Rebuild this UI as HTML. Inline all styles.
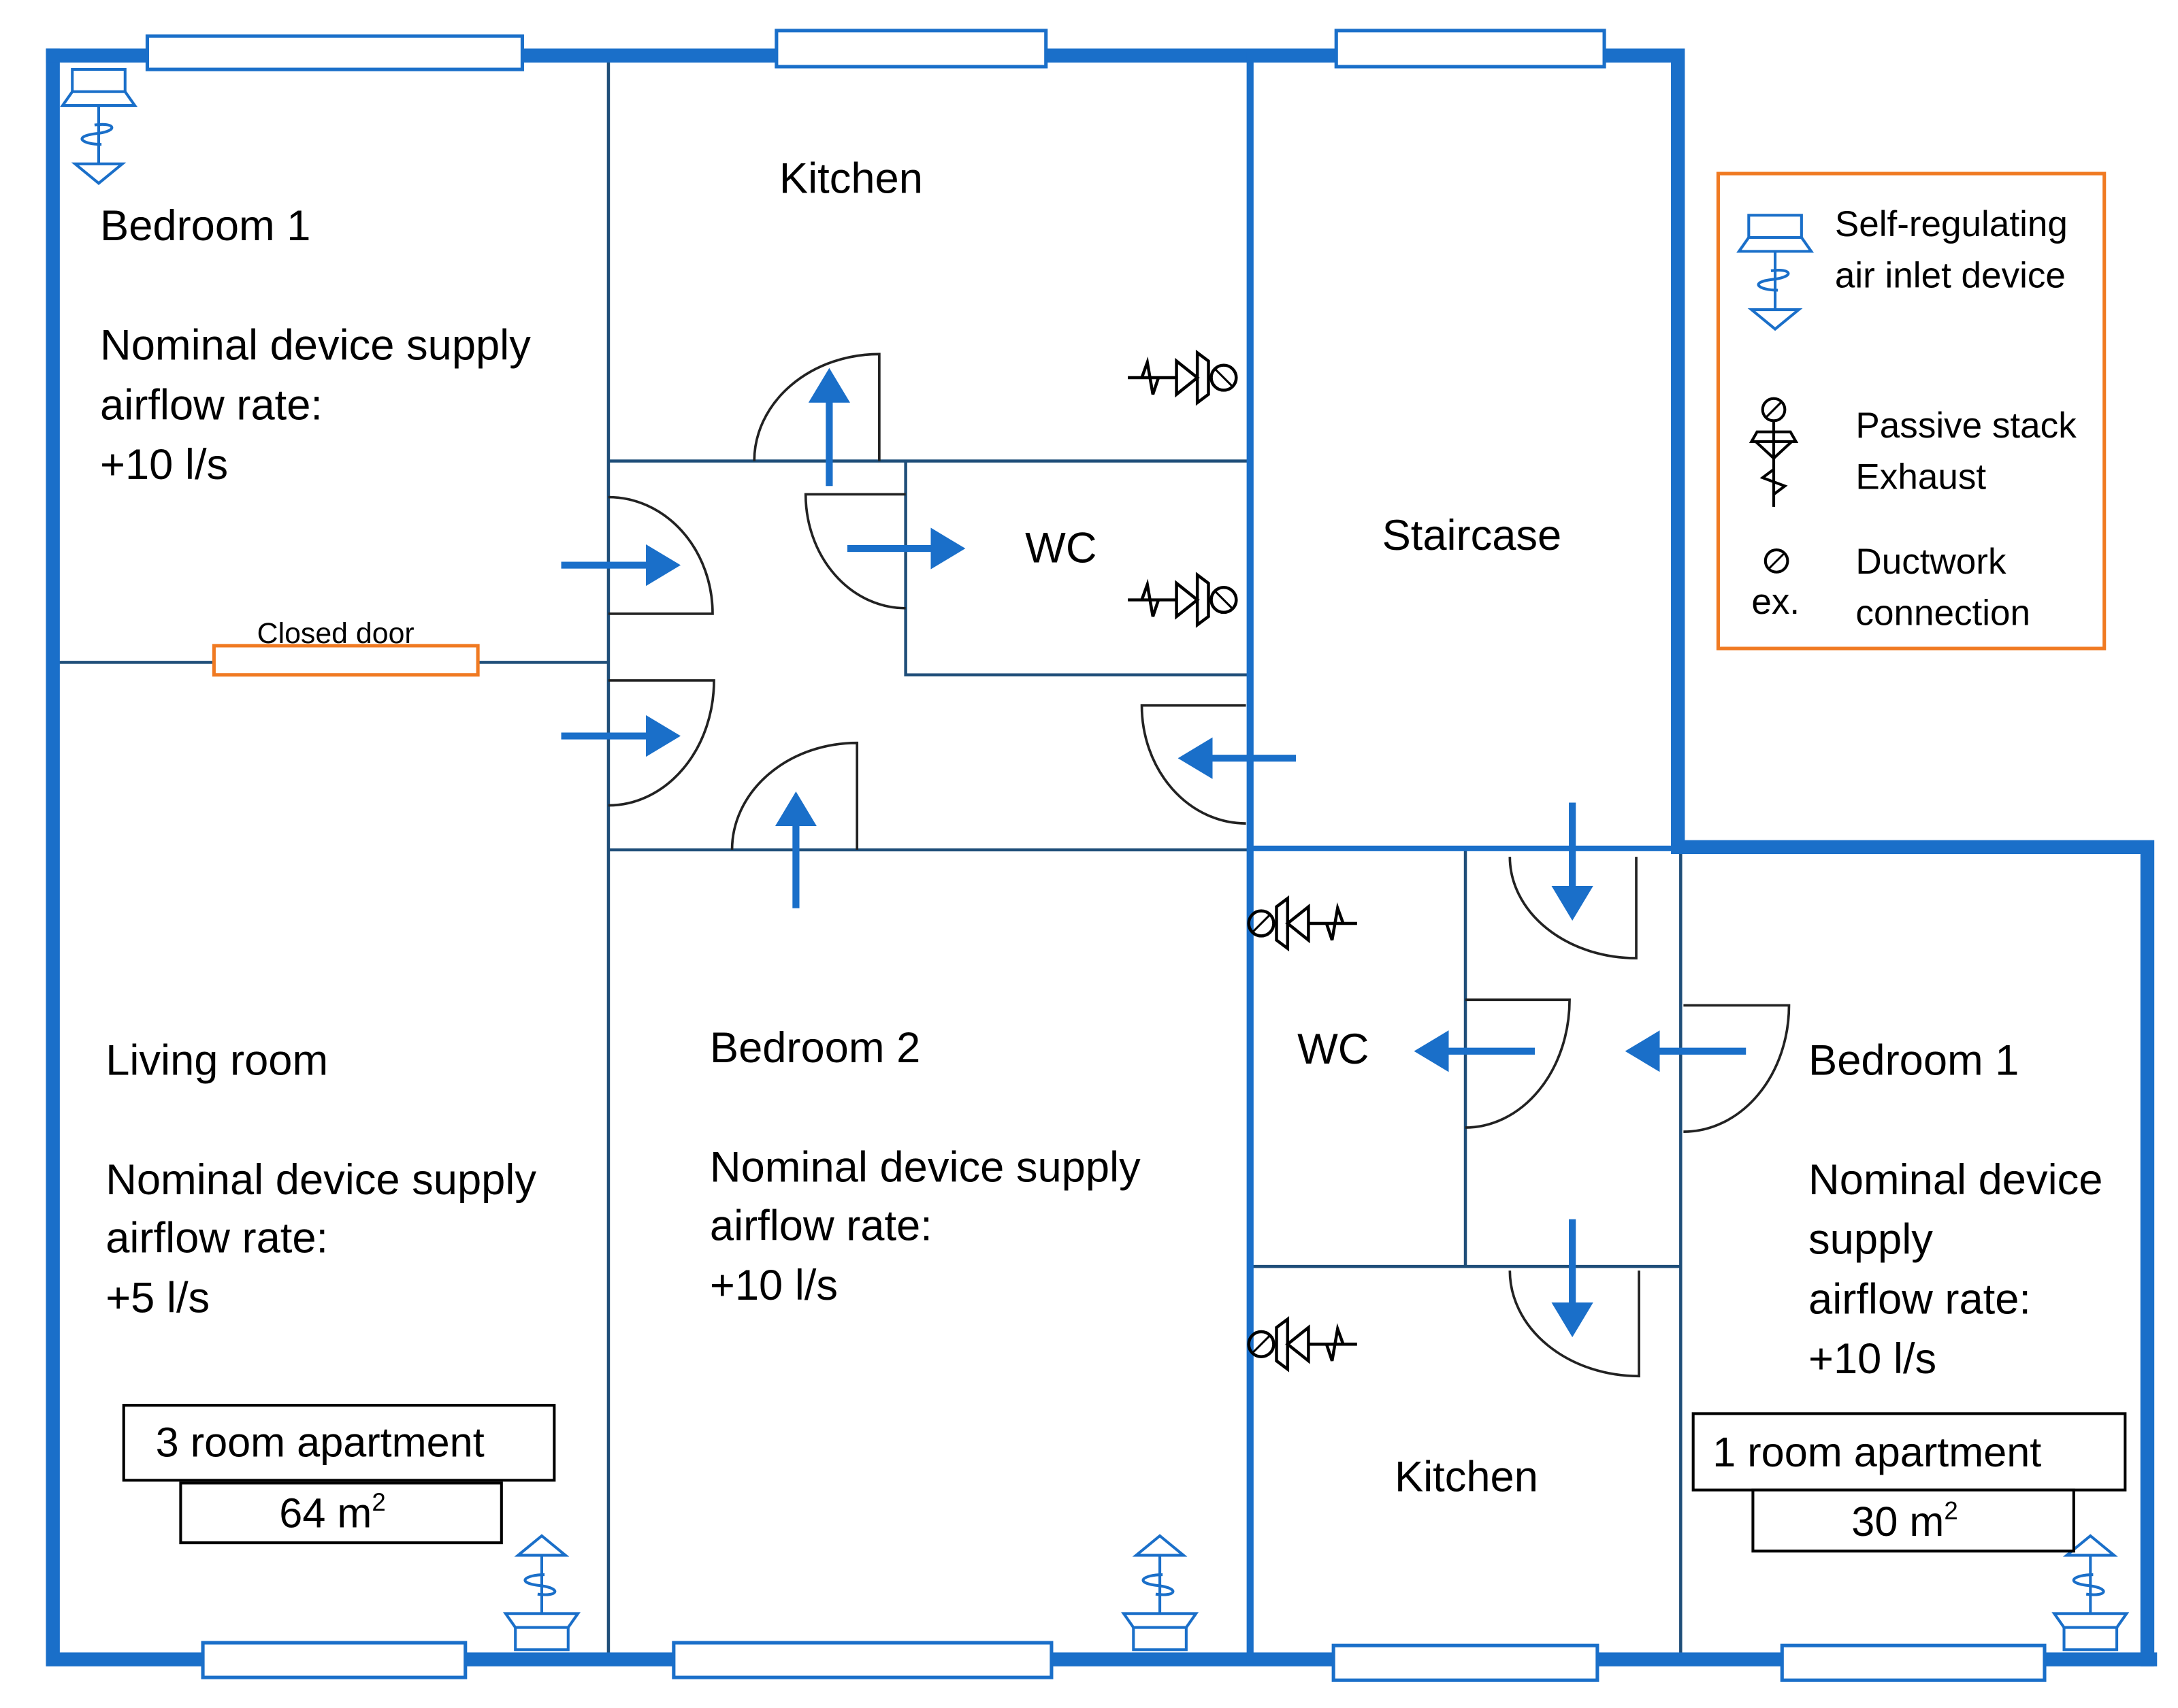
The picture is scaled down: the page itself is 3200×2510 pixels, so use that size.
<!DOCTYPE html>
<html><head><meta charset="utf-8"><style>html,body{margin:0;padding:0;background:#fff}svg{display:block}</style></head>
<body>
<svg width="3200" height="2510" viewBox="0 0 1568 1230" xmlns="http://www.w3.org/2000/svg" font-family="Liberation Sans, sans-serif">
<defs>
<g id="inlet" fill="none" stroke="#1a6fc9" stroke-width="2">
<rect x="-19" y="0" width="38" height="16" fill="#fff"/>
<path d="M-19,16 L-26,26 H26 L19,16"/>
<path d="M0,26 V68"/>
<path d="M-3,40 C12,38 14,44 0,46 C-20,48 -12,54 2,54"/>
<path d="M-17,68 H17 L0,82 Z" fill="#fff"/>
</g>
<g id="exh" fill="none" stroke="#000" stroke-width="2.2">
<path d="M0,0 H35"/>
<path d="M10,0 L14,-11 L18,12 L22,0"/>
<path d="M35,-12 V12 L50,0 Z"/>
<path d="M50,-18 V18 L58,12 V-12 Z"/>
<circle cx="69" cy="0" r="9"/>
<path d="M63,-6 L75,6" stroke-width="1.5"/>
</g>
<marker id="ah" markerWidth="6" markerHeight="6" refX="2" refY="3" orient="auto" markerUnits="strokeWidth">
<path d="M0,0 L5,3 L0,6 Z" fill="#1a6fc9"/>
</marker>
</defs>

<g stroke="#1f4e79" stroke-width="2.2" fill="none">
<path d="M438,40 V1195"/>
<path d="M438,332 H900"/>
<path d="M42,477 H438"/>
<path d="M438,612 H900"/>
<path d="M652,332 V486 H900"/>
<path d="M1055,612 V912"/>
<path d="M900,912 H1210"/>
<path d="M1210,612 V1195"/>
</g>

<g stroke="#1a6fc9" fill="none" stroke-linecap="square">
<path d="M38,40 V1195 H1548" stroke-width="10"/>
<path d="M38,40 H1208 V610 H1546 V1195" stroke-width="10"/>
<path d="M900,40 V1195" stroke-width="5"/>
<path d="M900,611 H1207" stroke-width="4"/>
</g>

<g fill="#fff" stroke="#1a6fc9" stroke-width="2.5">
<rect x="106" y="26" width="270" height="24"/>
<rect x="559" y="22" width="194" height="26"/>
<rect x="962" y="22" width="193" height="26"/>
<rect x="146" y="1183" width="189" height="25"/>
<rect x="485" y="1183" width="272" height="25"/>
<rect x="960" y="1185" width="190" height="25"/>
<rect x="1283" y="1185" width="189" height="25"/>
</g>

<g fill="none" stroke="#222" stroke-width="1.8">
<path d="M633,332 V255 A90,77 0 0 0 543,332"/>
<path d="M652,356 H580 A72,82 0 0 0 652,438"/>
<path d="M438,358 A75,84 0 0 1 513,442 H438"/>
<path d="M438,490 H514 A76,90 0 0 1 438,580"/>
<path d="M617,612 V535 A90,77 0 0 0 527,612"/>
<path d="M897,508 H822 A75,85 0 0 0 897,593"/>
<path d="M1087,617 A91,73 0 0 0 1178,690 V617"/>
<path d="M1055,720 H1130 A75,92 0 0 1 1055,812"/>
<path d="M1212,724 H1288 A76,91 0 0 1 1212,815"/>
<path d="M1087,915 A93,76 0 0 0 1180,991 V915"/>
</g>

<rect x="154" y="465" width="190" height="21" fill="#fff" stroke="#f07a22" stroke-width="2.5"/>
<text x="185" y="463" font-size="21">Closed door</text>

<g stroke="#1a6fc9" stroke-width="5" marker-end="url(#ah)">
<path d="M404,407 H475"/>
<path d="M404,530 H475"/>
<path d="M597,350 V280"/>
<path d="M610,395 H680"/>
<path d="M573,654 V585"/>
<path d="M933,546 H863"/>
<path d="M1132,578 V648"/>
<path d="M1105,757 H1033"/>
<path d="M1257,757 H1185"/>
<path d="M1132,878 V948"/>
</g>

<use href="#exh" transform="translate(812,272)"/>
<use href="#exh" transform="translate(812,432)"/>
<use href="#exh" transform="translate(977,665) scale(-1,1)"/>
<use href="#exh" transform="translate(977,968) scale(-1,1)"/>

<use href="#inlet" transform="translate(71,50)"/>
<use href="#inlet" transform="translate(390,1188) scale(1,-1)"/>
<use href="#inlet" transform="translate(835,1188) scale(1,-1)"/>
<use href="#inlet" transform="translate(1505,1188) scale(1,-1)"/>

<g font-size="31" fill="#000">
<text x="72" y="173">Bedroom 1</text>
<text x="72" y="259">Nominal device supply</text>
<text x="72" y="302">airflow rate:</text>
<text x="72" y="345">+10 l/s</text>
<text x="561" y="139">Kitchen</text>
<text x="738" y="405">WC</text>
<text x="995" y="396">Staircase</text>
<text x="76" y="774">Living room</text>
<text x="76" y="860">Nominal device supply</text>
<text x="76" y="902">airflow rate:</text>
<text x="76" y="945">+5 l/s</text>
<text x="511" y="765">Bedroom 2</text>
<text x="511" y="851">Nominal device supply</text>
<text x="511" y="893">airflow rate:</text>
<text x="511" y="936">+10 l/s</text>
<text x="934" y="766">WC</text>
<text x="1302" y="774">Bedroom 1</text>
<text x="1302" y="860">Nominal device</text>
<text x="1302" y="903">supply</text>
<text x="1302" y="946">airflow rate:</text>
<text x="1302" y="989">+10 l/s</text>
<text x="1004" y="1074">Kitchen</text>
</g>

<g fill="#fff" stroke="#000" stroke-width="2">
<rect x="89" y="1012" width="310" height="54"/>
<rect x="130" y="1068" width="231" height="43"/>
<rect x="1219" y="1018" width="311" height="55"/>
<rect x="1262" y="1073" width="231" height="44"/>
</g>
<g font-size="30" fill="#000">
<text x="112" y="1049">3 room apartment</text>
<text x="201" y="1100">64 m<tspan font-size="18" dy="-12">2</tspan></text>
<text x="1233" y="1056">1 room apartment</text>
<text x="1333" y="1106">30 m<tspan font-size="18" dy="-12">2</tspan></text>
</g>

<rect x="1237" y="125" width="278" height="342" fill="#fff" stroke="#f07a22" stroke-width="2.5"/>
<use href="#inlet" transform="translate(1278,155)"/>
<g fill="none" stroke="#000" stroke-width="2">
<circle cx="1277" cy="295" r="8"/><path d="M1271,301 L1283,289" stroke-width="1.5"/>
<path d="M1277,303 V365"/>
<path d="M1265,311 H1289 L1293,318 H1261 Z"/>
<path d="M1264,318 L1277,330 L1290,318"/>
<path d="M1277,338 L1269,344 L1285,350 L1277,356"/>
<circle cx="1279" cy="404" r="8"/><path d="M1273,410 L1285,398" stroke-width="1.5"/>
</g>
<g font-size="26" fill="#000">
<text x="1321" y="170">Self-regulating</text>
<text x="1321" y="207">air inlet device</text>
<text x="1336" y="315">Passive stack</text>
<text x="1336" y="352">Exhaust</text>
<text x="1336" y="413">Ductwork</text>
<text x="1336" y="450">connection</text>
<text x="1261" y="442">ex.</text>
</g>
</svg>
</body></html>
